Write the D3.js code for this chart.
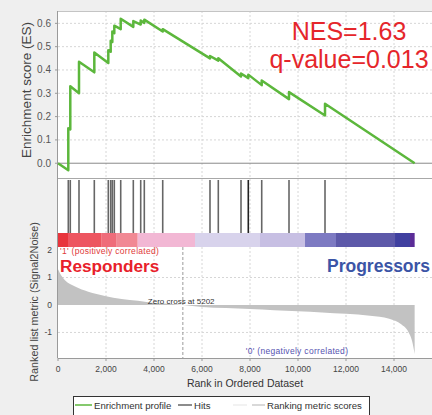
<!DOCTYPE html>
<html>
<head>
<meta charset="utf-8">
<script src="https://cdn.jsdelivr.net/npm/d3@7"></script>
<style>
  body { margin: 0; background: #efefef; }
  svg { display: block; font-family: "Liberation Sans", Arial, sans-serif; }
</style>
</head>
<body>
<svg id="chart" width="432" height="415"></svg>
<script>
// dataset size
const N = 14860;

// gene set hits (rank) and running ES just before / after each hit
const hitRanks = [429, 512, 875, 1513, 2096, 2196, 2263, 2346, 2613, 3138, 3446, 3596, 4363, 6333, 6679, 7625, 7929, 8488, 9625, 11125];
const esBefore = [-0.03, 0.145, 0.30, 0.39, 0.43, 0.478, 0.52, 0.558, 0.575, 0.585, 0.595, 0.602, 0.565, 0.45, 0.44, 0.372, 0.365, 0.335, 0.275, 0.205];
const esAfter  = [0.15, 0.33, 0.435, 0.475, 0.485, 0.525, 0.565, 0.59, 0.62, 0.61, 0.612, 0.616, 0.575, 0.46, 0.45, 0.385, 0.38, 0.355, 0.305, 0.255];

// ranked list metric (Signal2Noise)
const metricRanks  = [0, 150, 290, 710, 1260, 1960, 2650, 3330, 3900, 4600, 5202, 6000, 7000, 8000, 9000, 10000, 11000, 12000, 13000, 13800, 14300, 14600, 14750, 14860];
const metricValues = [1.3, 1.05, 0.9, 0.67, 0.48, 0.33, 0.22, 0.15, 0.08, 0.04, 0, -0.07, -0.11, -0.15, -0.19, -0.23, -0.27, -0.32, -0.39, -0.5, -0.7, -0.98, -1.3, -1.78];
const zeroCross = 5202;

// heat bar segments (start rank, colour)
const barStarts = [0, 417, 1821, 2446, 3321, 5708, 8417, 10292, 11583, 14042, 14667];
const barColors = ["#e8343c", "#ed5560", "#ef6c7a", "#f18994", "#f2b7d4", "#d8d3ec", "#c7bfe3", "#7d7ac2", "#5d59a9", "#4040a0", "#5b2c97"];

const xTicks = [0, 2000, 4000, 6000, 8000, 10000, 12000, 14000];
const esTicks = [0, 0.1, 0.2, 0.3, 0.4, 0.5, 0.6];
const metricTicks = [2, 1, 0, -1];

const svg = d3.select("#chart");
const L = 58, R = 432;
const esTop = 11, esBot = 178, hitTop = 178, hitBot = 233, barBot = 247, mBot = 358;

const x = d3.scaleLinear().domain([0, 15583]).range([L, R]);
const yES = d3.scaleLinear().domain([-0.0634, 0.653]).range([esBot, esTop]);
const yM = d3.scaleLinear().domain([-1.93, 2.11]).range([mBot, barBot]);

// panels
svg.append("rect").attr("x", L).attr("y", esTop).attr("width", R - L).attr("height", mBot - esTop).attr("fill", "#fff");

const grid = svg.append("g").attr("stroke", "#d6d6d6").attr("stroke-dasharray", "2,2").attr("stroke-width", 1);
xTicks.filter(d => d > 0).forEach(t => {
  grid.append("line").attr("x1", x(t)).attr("x2", x(t)).attr("y1", esTop).attr("y2", mBot);
});
esTicks.filter(d => d > 0).forEach(t => {
  grid.append("line").attr("x1", L).attr("x2", R).attr("y1", yES(t)).attr("y2", yES(t));
});
[1, -1].forEach(t => {
  grid.append("line").attr("x1", L).attr("x2", R).attr("y1", yM(t)).attr("y2", yM(t));
});

// ES zero line
svg.append("line").attr("x1", L).attr("x2", R).attr("y1", yES(0)).attr("y2", yES(0)).attr("stroke", "#8a8a8a");

// frame
svg.append("line").attr("x1", L).attr("x2", R).attr("y1", esTop + 0.5).attr("y2", esTop + 0.5).attr("stroke", "#c4c4c4");
svg.append("line").attr("x1", L).attr("x2", R).attr("y1", hitTop + 0.5).attr("y2", hitTop + 0.5).attr("stroke", "#a8a8a8");
svg.append("line").attr("x1", L).attr("x2", R).attr("y1", mBot + 0.5).attr("y2", mBot + 0.5).attr("stroke", "#9a9a9a");
svg.append("line").attr("x1", L - 0.5).attr("x2", L - 0.5).attr("y1", esTop).attr("y2", mBot).attr("stroke", "#9a9a9a");

// ranked list metric area
const metric = metricRanks.map((r, i) => [r, metricValues[i]]);
svg.append("path")
  .datum(metric)
  .attr("fill", "#c2c2c2")
  .attr("d", d3.area().x(d => x(d[0])).y0(yM(0)).y1(d => yM(d[1])).curve(d3.curveMonotoneX));

svg.append("line")
  .attr("x1", x(zeroCross)).attr("x2", x(zeroCross))
  .attr("y1", barBot).attr("y2", mBot)
  .attr("stroke", "#9a9a9a").attr("stroke-dasharray", "3,2");

// heat bar
svg.append("g").selectAll("rect").data(barStarts).join("rect")
  .attr("x", d => x(d))
  .attr("width", (d, i) => x(i < barStarts.length - 1 ? barStarts[i + 1] : N) - x(d))
  .attr("y", hitBot).attr("height", barBot - hitBot)
  .attr("fill", (d, i) => barColors[i]);

// hits
svg.append("g").selectAll("line").data(hitRanks).join("line")
  .attr("x1", d => x(d)).attr("x2", d => x(d))
  .attr("y1", hitTop + 2).attr("y2", hitBot)
  .attr("stroke", d => d === 7929 ? "#222" : "#666")
  .attr("stroke-width", 1.6);

// enrichment profile
const es = [[0, 0]];
hitRanks.forEach((r, i) => { es.push([r, esBefore[i]]); es.push([r, esAfter[i]]); });
es.push([N, 0]);
svg.append("path")
  .datum(es)
  .attr("fill", "none")
  .attr("stroke", "#5cb73c")
  .attr("stroke-width", 2.5)
  .attr("stroke-linejoin", "round")
  .attr("d", d3.line().x(d => x(d[0])).y(d => yES(d[1])));

// axes
const axisText = "#555";
svg.append("g").selectAll("text").data(esTicks).join("text")
  .attr("x", 51).attr("y", d => yES(d) + 3.5)
  .attr("text-anchor", "end").attr("font-size", 10).attr("fill", axisText)
  .text(d3.format(".1f"));
svg.append("g").selectAll("line").data(esTicks).join("line")
  .attr("x1", L - 3).attr("x2", L).attr("y1", d => yES(d)).attr("y2", d => yES(d)).attr("stroke", "#999");

svg.append("g").selectAll("text").data(metricTicks).join("text")
  .attr("x", 52).attr("y", d => yM(d) + 3)
  .attr("text-anchor", "end").attr("font-size", 8.5).attr("fill", "#444")
  .text(d => d);

svg.append("g").selectAll("text").data(xTicks).join("text")
  .attr("x", d => x(d)).attr("y", 372)
  .attr("text-anchor", "middle").attr("font-size", 8.5).attr("fill", "#444")
  .text(d3.format(","));
svg.append("g").selectAll("line").data(xTicks).join("line")
  .attr("x1", d => x(d)).attr("x2", d => x(d)).attr("y1", mBot).attr("y2", mBot + 3).attr("stroke", "#999");

svg.append("text")
  .attr("transform", "translate(31,90) rotate(-90)")
  .attr("text-anchor", "middle").attr("font-size", 13.5).attr("fill", "#444")
  .text("Enrichment score (ES)");
svg.append("text")
  .attr("transform", "translate(38,302) rotate(-90)")
  .attr("text-anchor", "middle").attr("font-size", 10.8).attr("fill", "#444")
  .text("Ranked list metric (Signal2Noise)");
svg.append("text")
  .attr("x", (L + R) / 2).attr("y", 387)
  .attr("text-anchor", "middle").attr("font-size", 10.5).attr("fill", "#333")
  .text("Rank in Ordered Dataset");

// annotations
svg.append("text").attr("x", 349).attr("y", 40).attr("text-anchor", "middle")
  .attr("font-size", 25).attr("fill", "#e5262b").text("NES=1.63");
svg.append("text").attr("x", 349).attr("y", 68).attr("text-anchor", "middle")
  .attr("font-size", 25).attr("fill", "#e5262b").text("q-value=0.013");

svg.append("text").attr("x", 60).attr("y", 254)
  .attr("font-size", 8.5).attr("fill", "#e03a3a").attr("letter-spacing", 0.3)
  .text("'1' (positively correlated)");
svg.append("text").attr("x", 60).attr("y", 272)
  .attr("font-size", 17.2).attr("font-weight", "bold").attr("fill", "#e8202a")
  .text("Responders");
svg.append("text").attr("x", 327).attr("y", 272)
  .attr("font-size", 17.5).attr("font-weight", "bold").attr("fill", "#3b55a6")
  .text("Progressors");
svg.append("text").attr("x", x(zeroCross) - 35).attr("y", 304)
  .attr("font-size", 8).attr("fill", "#333")
  .text("Zero cross at " + zeroCross);
svg.append("text").attr("x", 297).attr("y", 354).attr("text-anchor", "middle")
  .attr("font-size", 8.5).attr("fill", "#5553b0").attr("letter-spacing", 0.3)
  .text("'0' (negatively correlated)");

// legend
const lg = svg.append("g");
lg.append("rect").attr("x", 73.5).attr("y", 396.5).attr("width", 296).attr("height", 30)
  .attr("fill", "#fff").attr("stroke", "#333");
const items = [
  { x1: 75, x2: 92, color: "#5cb73c", label: "Enrichment profile", tx: 94 },
  { x1: 178, x2: 192, color: "#666", label: "Hits", tx: 194 },
  { x1: 233, x2: 247, color: "#eee", label: "", tx: 0 },
  { x1: 252, x2: 265, color: "#ccc", label: "Ranking metric scores", tx: 267 }
];
items.forEach(it => {
  lg.append("line").attr("x1", it.x1).attr("x2", it.x2).attr("y1", 405).attr("y2", 405)
    .attr("stroke", it.color).attr("stroke-width", 1.5);
  if (it.label) lg.append("text").attr("x", it.tx).attr("y", 408.5)
    .attr("font-size", 9.6).attr("fill", "#333").text(it.label);
});
</script>
</body>
</html>
